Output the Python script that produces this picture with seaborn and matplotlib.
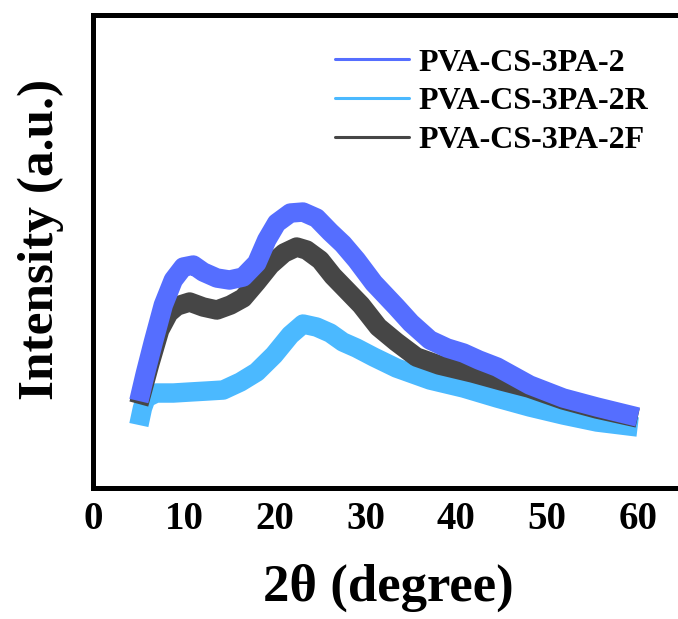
import numpy as np
import pandas as pd
import matplotlib
matplotlib.use("Agg")
import matplotlib.pyplot as plt
from matplotlib.lines import Line2D
import seaborn as sns

# XRD patterns, intensity (arbitrary units)
tt_2 = [5.0, 5.7, 6.6, 7.7, 8.8, 9.9, 11.0, 12.1, 13.6, 15.0, 16.5, 18.0, 19.1,
        20.2, 21.7, 23.1, 24.6, 26.1, 27.5, 29.0, 30.9, 33.4, 35.0, 37.1, 39.0,
        40.8, 42.5, 44.5, 48.1, 51.8, 55.5, 60.0]
int_2 = [87, 114, 146, 183, 208, 221, 223, 216, 210, 208, 211, 225, 248,
         265, 275, 276, 270, 256, 244, 228, 205, 181, 165, 148, 140,
         135, 128, 121, 103, 90, 81, 71]

tt_2r = [5.0, 5.4, 5.8, 6.9, 8.8, 10.6, 12.5, 14.3, 16.2, 18.0, 19.9, 21.7,
         23.1, 24.6, 26.1, 27.5, 29.0, 30.9, 33.4, 37.1, 40.8, 44.5, 48.1,
         51.8, 55.5, 60.0]
int_2r = [63, 80, 90, 95, 95, 96, 97, 98, 106, 116, 133, 153,
          164, 161, 155, 146, 140, 131, 120, 108, 100, 90, 81,
          73, 66, 61]

tt_2f = [5.0, 6.2, 7.3, 8.3, 9.2, 10.6, 12.1, 13.6, 15.1, 16.5, 18.0, 19.5,
         21.0, 22.4, 23.5, 25.0, 26.4, 27.9, 29.5, 31.4, 33.4, 35.6, 38.1,
         41.8, 45.0, 48.0, 51.8, 55.5, 60.0]
int_2f = [84, 124, 158, 175, 182, 186, 181, 178, 183, 190, 206, 223,
          235, 241, 238, 228, 212, 198, 183, 161, 146, 131, 123,
          115, 107, 100, 88, 79, 70]

labels = ["PVA-CS-3PA-2", "PVA-CS-3PA-2R", "PVA-CS-3PA-2F"]
colors = ["#556EFF", "#4BB9FF", "#464646"]

sns.set_style("white")
plt.rcParams["font.family"] = ["Liberation Serif", "DejaVu Serif"]
plt.rcParams["font.weight"] = "bold"
plt.rcParams["axes.labelweight"] = "bold"
plt.rcParams["text.color"] = "black"
plt.rcParams["axes.labelcolor"] = "black"
plt.rcParams["xtick.color"] = "black"

fig = plt.figure(figsize=(6.78, 6.19), dpi=100)
ax = fig.add_axes([0.1379, 0.2116, 0.8695, 0.7641])

band = dict(linewidth=14, solid_capstyle="butt", solid_joinstyle="round")
# draw order: 2R, 2F, then 2 on top
sns.lineplot(x=tt_2r, y=int_2r, color=colors[1], ax=ax, **band)
sns.lineplot(x=tt_2f, y=int_2f, color=colors[2], ax=ax, **band)
sns.lineplot(x=tt_2, y=int_2, color=colors[0], ax=ax, **band)

ax.set_xlim(0, 65)
ax.set_ylim(0, 473)
ax.set_xticks(np.arange(0, 61, 10))
ax.set_xticks(np.arange(5, 56, 10), minor=True)
ax.set_yticks([])
ax.tick_params(axis="x", which="major", direction="in", length=6, width=3,
               labelsize=28, pad=9, colors="black")
ax.tick_params(axis="x", which="minor", direction="in", length=3, width=3)
for lab in ax.get_xticklabels():
    lab.set_fontweight("bold")

for side in ["left", "bottom", "top", "right"]:
    ax.spines[side].set_linewidth(3.6)
    ax.spines[side].set_color("black")

ax.set_xlabel("2θ (degree)", fontsize=38, fontweight="bold", color="black")
ax.set_ylabel("Intensity (a.u.)", fontsize=37, fontweight="bold", color="black")
ax.xaxis.set_label_coords(0.5, -0.16)
ax.yaxis.set_label_coords(-0.05, 0.525)

handles = [Line2D([0], [0], color=c, lw=2.2) for c in colors]
leg = ax.legend(handles, labels, loc="upper left", bbox_to_anchor=(0.41, 0.93),
                frameon=False, handlelength=2.3, handletextpad=0.3,
                labelspacing=0.3, borderpad=0, borderaxespad=0,
                prop={"weight": "bold", "size": 23})
for t in leg.get_texts():
    t.set_color("black")

fig.savefig("out.png", dpi=100)
